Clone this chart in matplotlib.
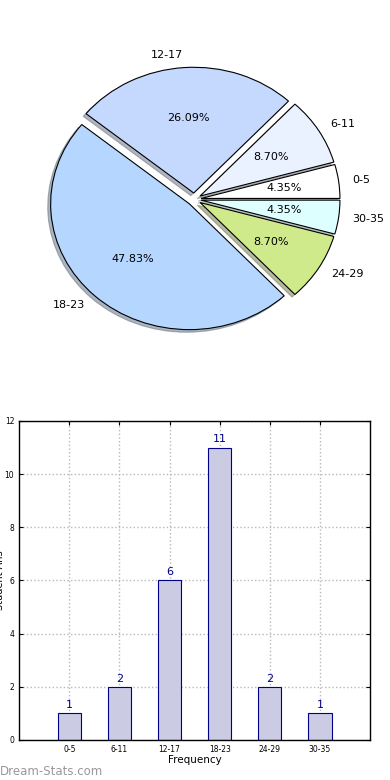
import matplotlib
matplotlib.use('Agg')
import matplotlib.pyplot as plt
import numpy as np

# ── Data ──────────────────────────────────────────────────────────────────────
groups = ['0-5', '6-11', '12-17', '18-23', '24-29', '30-35']
counts = [1, 2, 6, 11, 2, 1]
pie_colors = ['#ffffff', '#eaf2ff', '#c5d9ff', '#b5d6ff', '#cfea8b', '#ddffff']
explode = [0.05] * len(groups)

fig = plt.figure(figsize=(3.9, 7.8), dpi=100)

# ── Pie ───────────────────────────────────────────────────────────────────────
ax1 = fig.add_axes([0.053, 0.543, 0.89, 0.403])
wedges, texts, autotexts = ax1.pie(
    counts, labels=groups, colors=pie_colors, explode=explode,
    autopct='%1.2f%%', shadow=dict(ox=-0.015, oy=-0.015, shade=0.5),
    startangle=0,
    wedgeprops=dict(edgecolor='black', linewidth=0.8),
    textprops=dict(fontsize=8))
ax1.set_aspect('auto')
ax1.set_xlim(-1.25, 1.25); ax1.set_ylim(-1.25, 1.25)

# ── Bars ──────────────────────────────────────────────────────────────────────
ax2 = fig.add_axes([0.049, 0.0513, 0.90, 0.409])
x = np.arange(len(groups))
ax2.bar(x, counts, width=0.46, color='#cbcce4', edgecolor='#00008b',
        linewidth=0.8, zorder=2)
for xi, c in zip(x, counts):
    ax2.text(xi, c + 0.12, str(c), ha='center', va='bottom',
             color='#00008b', fontsize=8)
ax2.set_xlim(-1, 6)
ax2.set_ylim(0, 12)
ax2.set_xticks(x)
ax2.set_xticklabels(groups)
ax2.set_yticks(range(0, 13, 2))
ax2.tick_params(labelsize=5.5, direction='in', top=True, right=True, length=3)
ax2.grid(True, ls=':', color='#b8b8b8', lw=1, zorder=0)
ax2.set_xlabel('Frequency', fontsize=7.5, labelpad=1)
for s in ax2.spines.values():
    s.set_linewidth(1)

fig.text(0.0, 0.2558, 'Student Ans', rotation=90, va='center', ha='center',
         fontsize=7)
fig.text(0.0, 0.003, 'Dream-Stats.com', color='#999999', fontsize=8.5,
         ha='left', va='bottom')

plt.savefig('out.png', dpi=100)
